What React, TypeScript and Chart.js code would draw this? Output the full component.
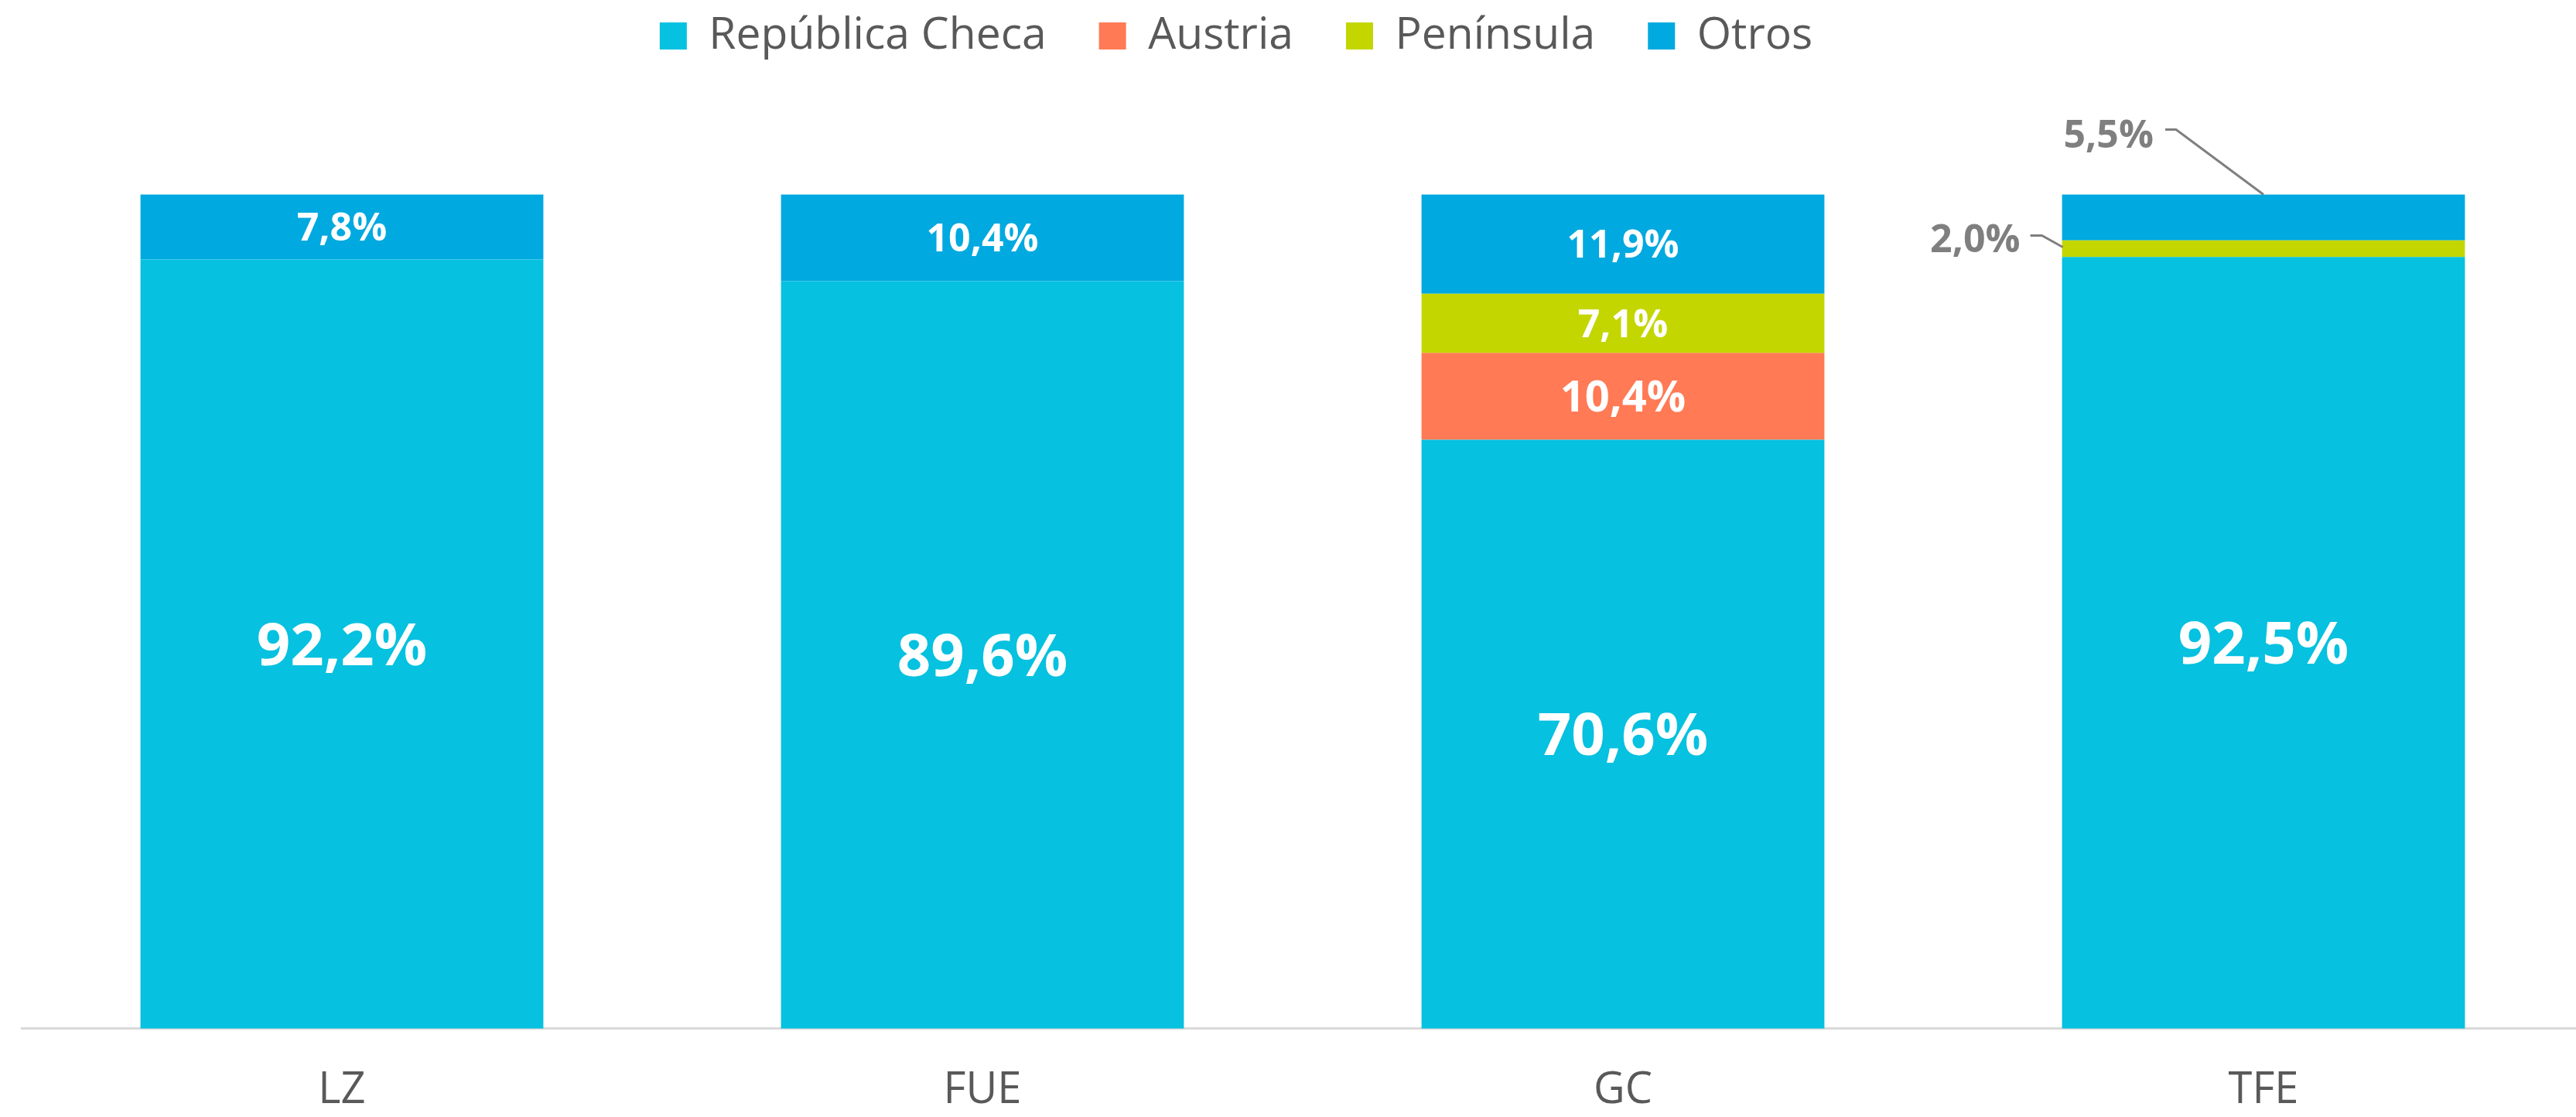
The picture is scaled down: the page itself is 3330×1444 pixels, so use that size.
import React, { useEffect, useRef } from 'react';
import { Chart, registerables } from 'chart.js';

Chart.register(...registerables);

// ---- Data ----
const categories = ['LZ', 'FUE', 'GC', 'TFE'];
const seriesNames = ['República Checa', 'Austria', 'Península', 'Otros'];
const republicaCheca = [92.2, 89.6, 70.6, 92.5];
const austria = [0, 0, 10.4, 0];
const peninsula = [0, 0, 7.1, 2.0];
const otros = [7.8, 10.4, 11.9, 5.5];

// ---- Styles ----
const seriesColors = ['#06C1DF', '#FF7A55', '#C4D600', '#00A9E0'];
const labelFontSizes = [76, 56, 50, 50];
const FONT = "'Open Sans', 'Noto Sans', sans-serif";
const CANVAS_W = 3346;
const CANVAS_H = 1444;

const fmt = (v: number) => v.toFixed(1).replace('.', ',') + '%';

const legendShift = {
  id: 'legendShift',
  afterLayout(chart: any) {
    const lg = chart.legend;
    if (!lg) return;
    const dx = 86;
    const dy = 50;
    lg.left -= dx;
    lg.right -= dx;
    lg.top -= dy;
    lg.bottom -= dy;
  },
};

const barLabels = {
  id: 'barLabels',
  afterDatasetsDraw(chart: any) {
    const ctx = chart.ctx;
    ctx.save();
    const n = chart.data.datasets.length;
    chart.data.datasets.forEach((ds: any, di: number) => {
      const meta = chart.getDatasetMeta(di);
      meta.data.forEach((el: any, i: number) => {
        const v = ds.data[i];
        if (!v) return;
        const { x, y, base, width } = el.getProps(['x', 'y', 'base', 'width'], true);
        const text = fmt(v);
        if (v >= 6) {
          const size = labelFontSizes[di];
          ctx.font = `bold ${size}px ${FONT}`;
          ctx.fillStyle = '#FFFFFF';
          ctx.textAlign = 'center';
          ctx.textBaseline = 'middle';
          ctx.fillText(text, x, (y + base) / 2 + size * 0.07);
        } else {
          const isTop = di === n - 1;
          ctx.font = `bold 50px ${FONT}`;
          ctx.fillStyle = '#7F7F7F';
          ctx.strokeStyle = '#7F7F7F';
          ctx.lineWidth = 3;
          ctx.textBaseline = 'middle';
          ctx.textAlign = 'right';
          ctx.beginPath();
          if (isTop) {
            ctx.fillText(text, x - 142, y - 75);
            ctx.moveTo(x - 127, y - 84);
            ctx.lineTo(x - 113, y - 84);
            ctx.lineTo(x, y);
          } else {
            const left = x - width / 2;
            const mid = (y + base) / 2;
            ctx.fillText(text, left - 54, mid - 10);
            ctx.moveTo(left - 41, mid - 17);
            ctx.lineTo(left - 26, mid - 17);
            ctx.lineTo(left + 1, mid - 2);
          }
          ctx.stroke();
        }
      });
    });
    ctx.restore();
  },
};

export default function App() {
  const ref = useRef<HTMLCanvasElement | null>(null);

  useEffect(() => {
    if (!ref.current) return;
    const seriesData = [republicaCheca, austria, peninsula, otros];
    const chart = new Chart(ref.current, {
      type: 'bar',
      data: {
        labels: categories,
        datasets: seriesNames.map((name, i) => ({
          label: name,
          data: seriesData[i],
          backgroundColor: seriesColors[i],
          borderColor: seriesColors[i],
          borderWidth: 0,
          categoryPercentage: 1,
          barPercentage: 0.629,
        })),
      },
      options: {
        responsive: false,
        animation: false,
        devicePixelRatio: 1,
        layout: { padding: { left: 28, right: 6, top: 0, bottom: -47 } },
        plugins: {
          legend: {
            position: 'top',
            labels: {
              boxWidth: 35,
              boxHeight: 35,
              padding: 68,
              color: '#595959',
              font: { family: FONT, size: 57 },
            },
          },
          tooltip: { enabled: false },
        },
        scales: {
          x: {
            stacked: true,
            grid: { display: false, drawTicks: false },
            border: { display: true, color: '#D9D9D9', width: 3 },
            ticks: {
              color: '#595959',
              padding: 47,
              font: { family: FONT, size: 56, lineHeight: 1.2 },
            },
          },
          y: { stacked: true, display: false, min: 0, max: 110.8 },
        },
      } as any,
      plugins: [legendShift, barLabels],
    });
    return () => chart.destroy();
  }, []);

  return (
    <div
      style={{
        position: 'absolute',
        left: 0,
        top: 0,
        width: 3330,
        height: 1444,
        overflow: 'hidden',
        background: '#ffffff',
      }}
    >
      <canvas
        ref={ref}
        width={CANVAS_W}
        height={CANVAS_H}
        style={{ display: 'block', width: CANVAS_W, height: CANVAS_H }}
      />
    </div>
  );
}
